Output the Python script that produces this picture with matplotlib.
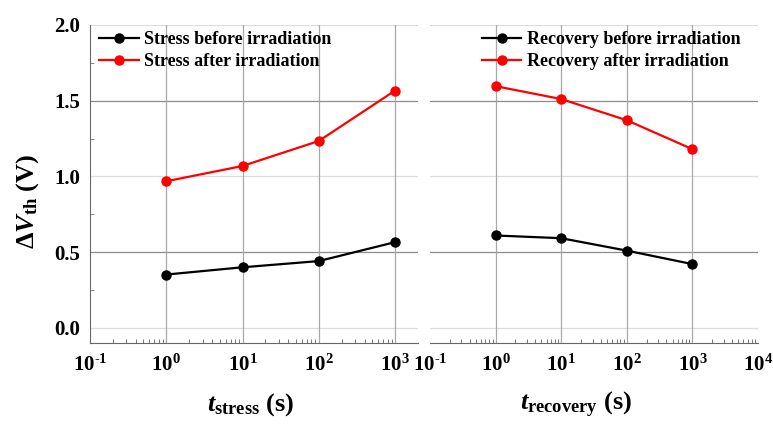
import matplotlib
matplotlib.use("Agg")
import matplotlib.pyplot as plt
from matplotlib.ticker import LogLocator, MultipleLocator, FixedLocator, NullFormatter

plt.rcParams['font.family'] = ['Liberation Serif', 'DejaVu Serif']
plt.rcParams['font.weight'] = 'bold'
plt.rcParams['mathtext.fontset'] = 'custom'
plt.rcParams['mathtext.rm'] = 'Liberation Serif:bold'
plt.rcParams['mathtext.bf'] = 'Liberation Serif:bold'
plt.rcParams['mathtext.it'] = 'Liberation Serif:italic:bold'

# data
t = [1, 10, 100, 1000]
stress_before = [0.352, 0.400, 0.441, 0.566]
stress_after = [0.968, 1.069, 1.234, 1.567]
recovery_before = [0.610, 0.592, 0.510, 0.421]
recovery_after = [1.596, 1.511, 1.371, 1.180]

left_ticks = [0.1, 1, 10, 100, 1000]
left_labels = [r'$\mathbf{10^{\text{-}1}}$', r'$\mathbf{10^{0}}$', r'$\mathbf{10^{1}}$',
               r'$\mathbf{10^{2}}$', r'$\mathbf{10^{3}}$']
right_ticks = [0.1, 1, 10, 100, 1000, 10000]
right_labels = left_labels + [r'$\mathbf{10^{4}}$']

fig = plt.figure(figsize=(7.73, 4.28), dpi=100)
ax1 = fig.add_axes([0.1164, 0.1986, 0.4243, 0.743])
ax2 = fig.add_axes([0.5563, 0.1986, 0.4243, 0.743])


def style(ax, ticks, labels, xlim):
    ax.set_xscale('log')
    ax.set_xlim(*xlim)
    ax.set_ylim(-0.1, 2.0)
    # grid
    for yv in [0.0, 1.0, 2.0]:
        ax.axhline(yv, color='#dddddd', lw=0.9, zorder=0)
    for yv in [0.5, 1.5]:
        ax.axhline(yv, color='#8c8c8c', lw=0.9, zorder=0)
    for xv in [1, 10, 100, 1000]:
        ax.axvline(xv, color='#a8a8a8', lw=0.9, zorder=0)
    ax.xaxis.set_major_locator(FixedLocator(ticks))
    ax.set_xticklabels(labels)
    ax.xaxis.set_minor_locator(LogLocator(base=10, subs=range(2, 10), numticks=20))
    ax.xaxis.set_minor_formatter(NullFormatter())
    ax.tick_params(axis='x', which='major', direction='in', length=0, pad=8, labelsize=15)
    ax.tick_params(axis='x', which='minor', direction='in', length=3, color='#777777', width=0.7)
    for s in ['top', 'right']:
        ax.spines[s].set_visible(False)
    ax.spines['bottom'].set_color('#666666')
    ax.spines['left'].set_color('#666666')


style(ax1, left_ticks, left_labels, (0.1, 1995))
style(ax2, right_ticks, right_labels, (0.1, 10000))

ax1.yaxis.set_minor_locator(MultipleLocator(0.25))
ax1.set_yticks([0.0, 0.5, 1.0, 1.5, 2.0])
ax1.set_yticklabels(['0.0', '0.5', '1.0', '1.5', '2.0'], fontsize=15, fontweight='bold')
ax1.tick_params(axis='y', which='major', direction='in', length=0, pad=7)
ax1.tick_params(axis='y', which='minor', direction='in', length=3, color='#777777')

ax2.spines['left'].set_visible(False)
ax2.set_yticks([])

ax1.plot(t, stress_before, color='black', marker='o', ms=6.5, lw=1.6,
         label='Stress before irradiation')
ax1.plot(t, stress_after, color='red', marker='o', ms=6.5, lw=1.6,
         label='Stress after irradiation')
ax2.plot(t, recovery_before, color='black', marker='o', ms=6.5, lw=1.6,
         label='Recovery before irradiation')
ax2.plot(t, recovery_after, color='red', marker='o', ms=6.5, lw=1.6,
         label='Recovery after irradiation')

leg_kw = dict(frameon=False, handlelength=2.2, handletextpad=0.3,
              labelspacing=0.3, borderaxespad=0.1, prop={'weight': 'bold', 'size': 13})
ax1.legend(loc='upper left', bbox_to_anchor=(0.0, 1.01), **leg_kw)
ax2.legend(loc='upper left', bbox_to_anchor=(0.13, 1.01), **leg_kw)

fig.text(0.036, 0.53, r'$\mathbf{\Delta}V_{\mathbf{th}}\ \mathbf{(V)}$', rotation=90,
         ha='center', va='center', fontsize=19)
fig.text(0.325, 0.055, r'$t_{\mathbf{stress}}\ \mathbf{(s)}$', ha='center', va='center', fontsize=19)
fig.text(0.745, 0.055, r'$t_{\mathbf{recovery}}\ \mathbf{(s)}$', ha='center', va='center', fontsize=19)

fig.savefig('out.png', dpi=100)
